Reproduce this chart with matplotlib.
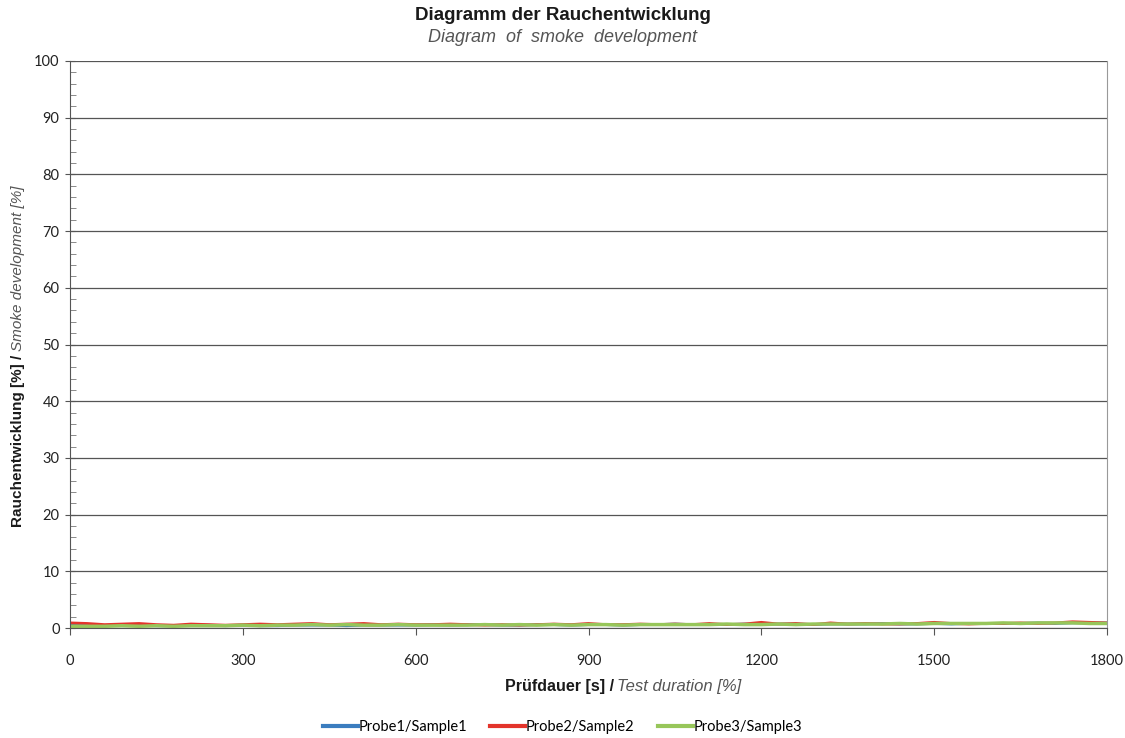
import numpy as np
import matplotlib
matplotlib.use("Agg")
import matplotlib.pyplot as plt
from matplotlib.ticker import MultipleLocator

# time axis in seconds, one reading every 30 s
time_s = list(range(0, 1801, 30))

sample1 = [0.5, 0.5, 0.4, 0.5, 0.5, 0.4, 0.4, 0.5, 0.5, 0.4,
           0.5, 0.4, 0.4, 0.5, 0.5, 0.5, 0.4, 0.5, 0.5, 0.5,
           0.5, 0.6, 0.5, 0.6, 0.6, 0.5, 0.5, 0.6, 0.6, 0.5,
           0.6, 0.6, 0.5, 0.6, 0.6, 0.7, 0.6, 0.6, 0.6, 0.7,
           0.6, 0.7, 0.7, 0.6, 0.7, 0.7, 0.7, 0.8, 0.7, 0.7,
           0.8, 0.7, 0.8, 0.8, 0.8, 0.8, 0.9, 0.8, 0.9, 0.9,
           0.9]
sample2 = [0.9, 0.8, 0.6, 0.7, 0.8, 0.6, 0.5, 0.7, 0.6, 0.5,
           0.6, 0.7, 0.6, 0.7, 0.8, 0.6, 0.7, 0.8, 0.6, 0.7,
           0.6, 0.6, 0.7, 0.6, 0.5, 0.6, 0.5, 0.6, 0.7, 0.6,
           0.8, 0.6, 0.6, 0.7, 0.6, 0.7, 0.6, 0.8, 0.6, 0.7,
           1.0, 0.7, 0.8, 0.6, 0.9, 0.7, 0.8, 0.7, 0.7, 0.8,
           1.0, 0.8, 0.7, 0.8, 0.8, 0.9, 0.8, 0.9, 1.1, 1.0,
           0.9]
sample3 = [0.3, 0.3, 0.3, 0.4, 0.3, 0.4, 0.3, 0.4, 0.4, 0.4,
           0.5, 0.4, 0.5, 0.5, 0.6, 0.5, 0.6, 0.5, 0.5, 0.6,
           0.5, 0.5, 0.5, 0.5, 0.6, 0.5, 0.6, 0.5, 0.6, 0.5,
           0.6, 0.6, 0.5, 0.6, 0.6, 0.6, 0.6, 0.6, 0.7, 0.6,
           0.6, 0.7, 0.6, 0.7, 0.7, 0.7, 0.7, 0.7, 0.8, 0.7,
           0.8, 0.8, 0.8, 0.8, 0.9, 0.8, 0.9, 0.9, 0.9, 0.8,
           0.8]

labels = ["Probe1/Sample1", "Probe2/Sample2", "Probe3/Sample3"]
colors = ["#3b7dbf", "#e3342b", "#97c65a"]
x_ticks = [0, 300, 600, 900, 1200, 1500, 1800]

W, H = 1125, 738
fig = plt.figure(figsize=(W / 100, H / 100), dpi=100)
ax = fig.add_axes([70 / W, 1 - 628 / H, (1107 - 70) / W, (628 - 61) / H])

for ys, c, lab, lw in zip([sample1, sample2, sample3], colors, labels, [2.0, 2.0, 2.5]):
    ax.plot(time_s, ys, color=c, lw=lw, label=lab)

ax.set_xlim(0, 1800)
ax.set_ylim(0, 100)
ax.set_xticks(x_ticks)
ax.yaxis.set_major_locator(MultipleLocator(10))
ax.yaxis.set_minor_locator(MultipleLocator(2))
ax.grid(axis="y", color="#555555", lw=0.9)
ax.set_axisbelow(True)

for s in ["left", "bottom"]:
    ax.spines[s].set_color("#555555")
ax.spines["right"].set_color("#999999")
ax.spines["top"].set_visible(False)

ax.tick_params(axis="y", which="major", direction="inout", length=7, color="#555555", pad=4)
ax.tick_params(axis="y", which="minor", direction="in", length=4, color="#777777")
ax.tick_params(axis="x", direction="out", length=5, color="#555555", pad=14)
for t in ax.get_xticklabels() + ax.get_yticklabels():
    t.set_fontfamily("Lato")
    t.set_fontsize(10.5)
    t.set_color("#222222")

# titles
fig.text(0.5, 1 - 16 / H, "Diagramm der Rauchentwicklung", ha="center", va="center",
         family="Liberation Sans", weight="bold", fontsize=13.5, color="#1a1a1a")
fig.text(0.5, 1 - 37 / H, "Diagram  of  smoke  development", ha="center", va="center",
         family="Liberation Sans", style="italic", fontsize=13, color="#555555")

# x label (bold + italic parts)
fig.text(614 / W, 1 - 687 / H, "Prüfdauer [s] /", ha="right", va="center",
         family="Liberation Sans", weight="bold", fontsize=11.5, color="#1a1a1a")
fig.text(617 / W, 1 - 687 / H, "Test duration [%]", ha="left", va="center",
         family="Liberation Sans", style="italic", fontsize=12, color="#555555")

# y label (bold + italic parts, rotated)
fig.text(18 / W, 1 - 355 / H, "Rauchentwicklung [%] /", ha="center", va="top", rotation=90,
         family="Liberation Sans", weight="bold", fontsize=11, color="#1a1a1a")
fig.text(18 / W, 1 - 351 / H, "Smoke development [%]", ha="center", va="bottom", rotation=90,
         family="Liberation Sans", style="italic", fontsize=11, color="#555555")

leg = fig.legend(loc="center", bbox_to_anchor=(0.5, 1 - 727 / H), ncol=3, frameon=False,
                 prop={"family": "Lato", "size": 10.5}, handlelength=2.4, handletextpad=0.05,
                 columnspacing=1.6)
for h in leg.legend_handles:
    h.set_linewidth(3)

fig.savefig("out.png", dpi=100, facecolor="white")
